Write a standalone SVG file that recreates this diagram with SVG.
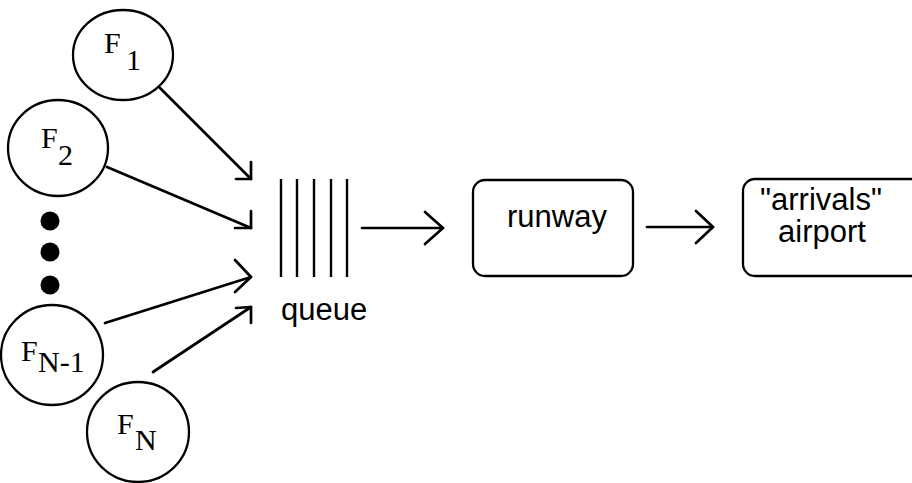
<svg xmlns="http://www.w3.org/2000/svg" width="912" height="483" viewBox="0 0 912 483">
  <style>
    .node { fill: none; stroke: #000; stroke-width: 2.3; }
    .dot { fill: #000; }
    .flow { font-family: "Liberation Serif", "Times New Roman", serif; font-size: 30px; fill: #000; }
    .label { font-family: "Liberation Sans", Arial, sans-serif; font-size: 31px; fill: #000; }
    .edge { fill: none; stroke: #000; stroke-width: 2.7; stroke-linecap: round; stroke-linejoin: round; }
    .slot { stroke: #000; stroke-width: 2.4; }
  </style>
  <rect width="912" height="483" fill="#fff"/>

  <!-- flight sources -->
  <g id="f1">
    <ellipse class="node" cx="123" cy="55" rx="50" ry="45"/>
    <text class="flow"><tspan x="104" y="53">F</tspan><tspan x="126" y="70">1</tspan></text>
  </g>
  <g id="f2">
    <ellipse class="node" cx="58" cy="148" rx="50" ry="48"/>
    <text class="flow"><tspan x="41" y="148">F</tspan><tspan x="58" y="165">2</tspan></text>
  </g>
  <g id="ellipsis">
    <circle class="dot" cx="50" cy="221" r="9.5"/>
    <circle class="dot" cx="50" cy="252" r="9.5"/>
    <circle class="dot" cx="50" cy="285" r="9.5"/>
  </g>
  <g id="fn1">
    <ellipse class="node" cx="52" cy="355" rx="51" ry="50"/>
    <text class="flow"><tspan x="21" y="361">F</tspan><tspan x="38" y="372">N-1</tspan></text>
  </g>
  <g id="fn">
    <ellipse class="node" cx="138" cy="432" rx="51" ry="50"/>
    <text class="flow"><tspan x="117" y="434">F</tspan><tspan x="135" y="450">N</tspan></text>
  </g>

  <!-- holding queue -->
  <g id="queue">
    <line class="slot" x1="281" y1="179" x2="281" y2="277"/>
    <line class="slot" x1="297" y1="179" x2="297" y2="277"/>
    <line class="slot" x1="314" y1="179" x2="314" y2="277"/>
    <line class="slot" x1="331" y1="179" x2="331" y2="277"/>
    <line class="slot" x1="347" y1="179" x2="347" y2="277"/>
    <text class="label" x="281" y="320">queue</text>
  </g>

  <g id="runway">
    <rect class="node" x="473" y="180" width="160" height="96" rx="12"/>
    <text class="label" x="557" y="227" text-anchor="middle">runway</text>
  </g>

  <g id="airport">
    <rect class="node" x="743" y="179" width="200" height="97" rx="12"/>
    <text class="label"><tspan x="760" y="210">"arrivals"</tspan><tspan x="778" y="242">airport</tspan></text>
  </g>

  <!-- connectors -->
  <g id="connectors">
    <line class="edge" x1="160" y1="88" x2="251" y2="179"/>
    <polyline class="edge" points="251,162 251,179 236,179"/>
    <line class="edge" x1="107" y1="167" x2="251" y2="228"/>
    <polyline class="edge" points="251,211 251,228 235,228"/>
    <line class="edge" x1="105" y1="323" x2="251" y2="277"/>
    <polyline class="edge" points="235,260 251,277 235,292"/>
    <line class="edge" x1="153" y1="372" x2="251" y2="307"/>
    <polyline class="edge" points="236,308 251,307 251,323"/>
    <line class="edge" x1="362" y1="228" x2="443" y2="228"/>
    <polyline class="edge" points="425,212 443,228 425,244"/>
    <line class="edge" x1="647" y1="227" x2="713" y2="227"/>
    <polyline class="edge" points="696,211 713,227 696,243"/>
  </g>
</svg>
